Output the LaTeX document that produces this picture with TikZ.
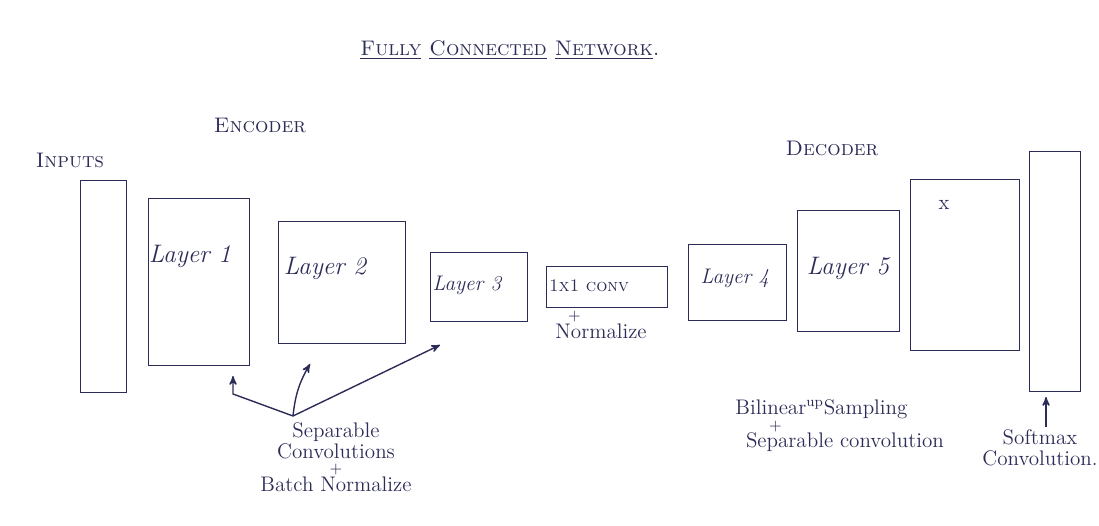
\documentclass[tikz,border=0pt]{standalone}
\usetikzlibrary{arrows, positioning}
\definecolor{ink}{RGB}{44,44,88}

\begin{document}
\begin{tikzpicture}[->, >=stealth', thick, x=0.02cm, y=-0.02cm, color=ink]
    \tikzstyle{layer}=[rectangle, draw, thick, inner sep=0pt, anchor=north west]
    \tikzstyle{txt}=[font=\large, text=ink, align=center, inner sep=1pt]

    \useasboundingbox (0,0) rectangle (1099,526);

    % titles
    \node[txt] (title) at (510,50)  {\textsc{\underline{Fully} \underline{Connected} \underline{Network}.}};
    \node[txt] (enc)   at (260,125) {\textsc{Encoder}};
    \node[txt] (dec)   at (832,148) {\textsc{Decoder}};
    \node[txt] (inlab) at (70,160)  {\textsc{Inputs}};

    % layers
    \node[layer, minimum width=46*0.02cm,  minimum height=212*0.02cm] (inp)  at (80,180)   {};
    \node[layer, minimum width=101*0.02cm, minimum height=167*0.02cm] (L1)   at (148,198)  {};
    \node[layer, minimum width=127*0.02cm, minimum height=122*0.02cm] (L2)   at (278,221)  {};
    \node[layer, minimum width=97*0.02cm,  minimum height=69*0.02cm]  (L3)   at (430,252)  {};
    \node[layer, minimum width=121*0.02cm, minimum height=41*0.02cm]  (conv) at (546,266)  {};
    \node[layer, minimum width=98*0.02cm,  minimum height=76*0.02cm]  (L4)   at (688,244)  {};
    \node[layer, minimum width=102*0.02cm, minimum height=121*0.02cm] (L5)   at (797,210)  {};
    \node[layer, minimum width=109*0.02cm, minimum height=171*0.02cm] (X)    at (910,179)  {};
    \node[layer, minimum width=51*0.02cm,  minimum height=240*0.02cm] (out)  at (1029,151) {};

    % layer texts
    \node[txt, font=\Large\itshape] (t1) at (190,256) {Layer 1};
    \node[txt, font=\Large\itshape] (t2) at (325,268) {Layer 2};
    \node[txt, font=\large\itshape] (t3) at (467,285) {Layer 3};
    \node[txt, font=\normalsize]    (tc) at (589,286) {\textsc{1x1 conv}};
    \node[txt, font=\large\itshape] (t4) at (735,278) {Layer 4};
    \node[txt, font=\Large\itshape] (t5) at (848,268) {Layer 5};
    \node[txt] (tx) at (944,205) {x};
    \node[txt, align=left, anchor=north west] (norm) at (553,309) {\hspace{0.6em}{\small +}\\[-4pt]Normalize};

    % notes
    \node[txt] (sep) at (336,457) {Separable\\[-2pt]Convolutions\\[-5pt]{\small +}\\[-4pt]Batch Normalize};
    \node[txt, align=left, anchor=north west] (bil) at (733,397) {Bilinear\textsuperscript{up}Sampling\\[-5pt]\hspace{1.6em}{\small +}\\[-4pt]\hspace{0.5em}Separable convolution};
    \node[txt] (soft) at (1040,448) {Softmax\\[-2pt]Convolution.};

    % connectors
    \coordinate (fork) at (293,416);
    \coordinate (a1) at (233,376);
    \coordinate (a2) at (310,364);
    \coordinate (a3) at (440,345);
    \coordinate (a4) at (1046,397);
    \draw (fork) -- (233,394) -- (a1);
    \draw (fork) to[bend left=12] (a2);
    \draw (fork) -- (a3);
    \draw (soft.north -| a4) -- (a4);
\end{tikzpicture}
\end{document}
